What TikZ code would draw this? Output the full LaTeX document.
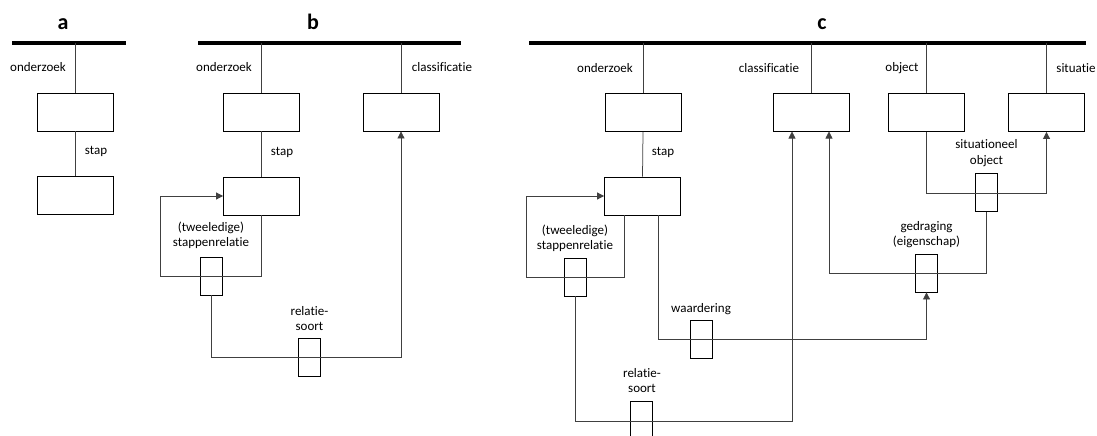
\documentclass[tikz,border=0pt]{standalone}
\usepackage{fontspec}
\setmainfont{Carlito}[Ligatures={NoCommon}]
\usetikzlibrary{arrows.meta}
\tikzset{
  ent/.style={draw=black, line width=0.8pt, minimum width=76pt, minimum height=38pt, inner sep=0pt},
  rel/.style={draw=black, line width=0.8pt, minimum width=22pt, minimum height=38pt, inner sep=0pt},
  link/.style={draw=black!75, line width=0.75pt},
  arr/.style={link, -{Triangle[length=7pt,width=7pt]}},
  bar/.style={line width=4pt},
  lbl/.style={font=\fontsize{13}{15.5}\selectfont, align=center, inner sep=0pt},
  ttl/.style={font=\fontsize{22}{24}\selectfont\bfseries, anchor=base, inner sep=0pt}
}
\begin{document}
\begin{tikzpicture}[x=1pt,y=-1pt]
\useasboundingbox (0,0) rectangle (1097,436);
% ---------------- panel a
\node[ttl] (ta) at (63,30) {a};
\coordinate (aL) at (12,43); \coordinate (aR) at (126,43);
\draw[bar] (aL) -- (aR);
\coordinate (aT) at (75,43);
\node[ent] (a1) at (75,112) {};
\node[ent] (a2) at (75,195) {};
\draw[link] (aT) -- (a1.north);
\draw[link] (a1.south) -- (a2.north);
\node[lbl] (la1) at (38,67) {onderzoek};
\node[lbl] (la2) at (96,151) {stap};
% ---------------- panel b
\node[ttl] (tb) at (313,30) {b};
\coordinate (bL) at (198,43); \coordinate (bR) at (461,43);
\draw[bar] (bL) -- (bR);
\coordinate (bT1) at (261.5,43); \coordinate (bT2) at (401,43);
\node[ent] (b1) at (261.5,112) {};
\node[ent] (b2) at (401,112) {};
\node[ent] (b3) at (261.5,196) {};
\draw[link] (bT1) -- (b1.north);
\draw[link] (bT2) -- (b2.north);
\draw[link] (b1.south) -- (b3.north);
\node[lbl] (lb1) at (224,67) {onderzoek};
\node[lbl] (lb2) at (442,67) {classificatie};
\node[lbl] (lb3) at (282,152) {stap};
\node[rel] (btw) at (211,276) {};
\node[lbl] (lb4) at (211,235.5) {(tweeledige)\\stappenrelatie};
\coordinate (bl1) at (261.5,276); \coordinate (bl2) at (160,276); \coordinate (bl3) at (160,196);
\draw[arr] (b3.south) -- (bl1) -- (bl2) -- (bl3) -- (b3.west);
\node[rel] (brs) at (309.5,357.5) {};
\node[lbl] (lb5) at (309.5,318.5) {relatie-\\soort};
\coordinate (bk1) at (211,357); \coordinate (bk2) at (401,357);
\draw[arr] (btw.south) -- (bk1) -- (bk2) -- (b2.south);
% ---------------- panel c
\node[ttl] (tc) at (822,30) {c};
\coordinate (cL) at (529,43); \coordinate (cR) at (1086,43);
\draw[bar] (cL) -- (cR);
\coordinate (cT1) at (643,43); \coordinate (cT2) at (811.5,43);
\coordinate (cT3) at (926,43); \coordinate (cT4) at (1046.5,43);
\node[ent] (c1) at (643,112.5) {};
\node[ent] (c2) at (811.5,112.5) {};
\node[ent] (c3) at (926,112.5) {};
\node[ent] (c4) at (1046.5,112.5) {};
\node[ent] (c5) at (642.5,196) {};
\draw[link] (cT1) -- (c1.north);
\draw[link] (cT2) -- (c2.north);
\draw[link] (cT3) -- (c3.north);
\draw[link] (cT4) -- (c4.north);
\draw[link] (c1.south) -- (c5.north);
\node[lbl] (lc1) at (605,68) {onderzoek};
\node[lbl] (lc2) at (769,68) {classificatie};
\node[lbl] (lc3) at (902,68) {object};
\node[lbl] (lc4) at (1076,68) {situatie};
\node[lbl] (lc5) at (663,152) {stap};
% tweeledige stappenrelatie
\node[rel] (ctw) at (575,277) {};
\node[lbl] (lc6) at (575,238.5) {(tweeledige)\\stappenrelatie};
\coordinate (cs1) at (624,215); \coordinate (cl1) at (624,277);
\coordinate (cl2) at (526,277); \coordinate (cl3) at (526,196);
\draw[arr] (cs1) -- (cl1) -- (cl2) -- (cl3) -- (c5.west);
% relatie-soort
\node[rel] (crs) at (641.5,420) {};
\node[lbl] (lc7) at (642,380.5) {relatie-\\soort};
\coordinate (ck1) at (575,421); \coordinate (ck2) at (792,421); \coordinate (ck3) at (792,131.5);
\draw[arr] (ctw.south) -- (ck1) -- (ck2) -- (ck3);
% waardering
\node[rel] (cwa) at (701,339.5) {};
\node[lbl] (lc8) at (701,309) {waardering};
\coordinate (cs2) at (658,215); \coordinate (cw1) at (658,339); \coordinate (cw2) at (926.5,339);
\node[rel] (cgd) at (926.5,273) {};
\node[lbl] (lc9) at (926.5,234.5) {gedraging\\(eigenschap)};
\draw[arr] (cs2) -- (cw1) -- (cw2) -- (cgd.south);
% situationeel object
\node[rel] (cso) at (986.5,192.5) {};
\node[lbl] (lc10) at (986.5,153) {situationeel\\object};
\coordinate (co1) at (926,193); \coordinate (co2) at (1046.5,193);
\draw[arr] (c3.south) -- (co1) -- (co2) -- (c4.south);
\coordinate (cg1) at (986.5,273); \coordinate (cg2) at (829,273); \coordinate (cg3) at (829,131.5);
\draw[arr] (cso.south) -- (cg1) -- (cg2) -- (cg3);
\end{tikzpicture}
\end{document}
